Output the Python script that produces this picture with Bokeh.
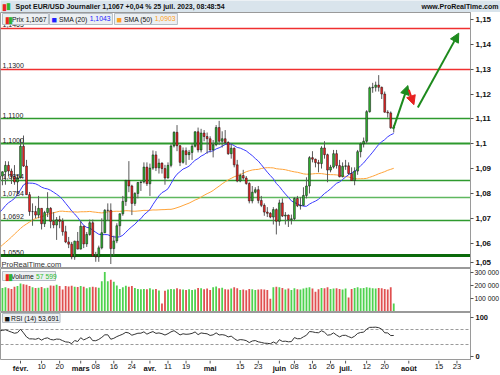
import numpy as np
import pandas as pd
from bokeh.plotting import figure
from bokeh.layouts import column
from bokeh.models import Range1d, FixedTicker, Label, Arrow, NormalHead, ColumnDataSource
from bokeh.core.properties import value
from bokeh.embed import file_html
from bokeh.resources import INLINE

FONT = "Liberation Sans"

# ---------------- data ----------------
start_date = "2023-01-23"
end_date = "2023-07-25"
origin_date = "2023-02-01"

# daily closes before the visible window (Nov 1 2022 -> Jan 20 2023), used for SMA / RSI
pre_closes = [
    0.9877, 0.9820, 0.9750, 0.9960, 1.0020, 1.0073, 1.0014, 1.0210, 1.0357,
    1.0325, 1.0350, 1.0395, 1.0363, 1.0325, 1.0243, 1.0305, 1.0407, 1.0410, 1.0398, 1.0339, 1.0330, 1.0405,
    1.0523, 1.0535, 1.0493, 1.0467, 1.0508, 1.0557, 1.0535, 1.0538, 1.0630, 1.0680, 1.0626, 1.0585,
    1.0605, 1.0621, 1.0604, 1.0593, 1.0619, 1.0634, 1.0640, 1.0612, 1.0660, 1.0703,
    1.0665, 1.0545, 1.0605, 1.0520, 1.0645, 1.0733, 1.0735, 1.0760, 1.0854, 1.0831,
    1.0821, 1.0790, 1.0795, 1.0830, 1.0855,
]

first_open = 1.0855
closes = [
    1.0870, 1.0887, 1.0913, 1.0890, 1.0868, 1.0846, 1.0863,
    1.0990, 1.0910, 1.0795, 1.0727, 1.0727, 1.0713, 1.0740, 1.0678, 1.0723, 1.0740, 1.0688, 1.0673, 1.0694, 1.0688, 1.0646, 1.0605, 1.0596, 1.0545, 1.0608, 1.0576,
    1.0668, 1.0597, 1.0635, 1.0682, 1.0548, 1.0545, 1.0581, 1.0642, 1.0732, 1.0732, 1.0578, 1.0609, 1.0670, 1.0718, 1.0768, 1.0852, 1.0830, 1.0760, 1.0800, 1.0844, 1.0846, 1.0906, 1.0839,
    1.0902, 1.0955, 1.0903, 1.0922, 1.0900, 1.0862, 1.0913, 1.0991, 1.1046, 1.0992, 1.0925, 1.0972, 1.0956, 1.0965, 1.0990, 1.1048, 1.0975, 1.1043, 1.1029, 1.1020,
    1.0975, 1.0996, 1.1065, 1.1010, 1.1020, 1.1005, 1.0960, 1.0982, 1.0915, 1.0850, 1.0872, 1.0862, 1.0840, 1.0770, 1.0805, 1.0815, 1.0772, 1.0752, 1.0725, 1.0720, 1.0705, 1.0735, 1.0688,
    1.0762, 1.0709, 1.0713, 1.0694, 1.0698, 1.0780, 1.0750, 1.0752, 1.0792, 1.0830, 1.0944, 1.0938, 1.0924, 1.0920, 1.0983, 1.0956, 1.0894, 1.0906, 1.0960, 1.0912, 1.0867, 1.0909,
    1.0911, 1.0880, 1.0852, 1.0890, 1.0968, 1.0999, 1.1010, 1.1129, 1.1225, 1.1227, 1.1236, 1.1227, 1.1200, 1.1127, 1.1124, 1.1064, 1.1067,
]
highs = [
    1.0927, 1.0889, 1.0930, 1.0929, 1.0900, 1.0914, 1.0875,
    1.1020, 1.1033, 1.0935, 1.0806, 1.0760, 1.0750, 1.0790, 1.0740, 1.0730, 1.0805, 1.0745, 1.0725, 1.0705, 1.0710, 1.0700, 1.0670, 1.0625, 1.0605, 1.0610, 1.0645,
    1.0690, 1.0670, 1.0645, 1.0695, 1.0695, 1.0565, 1.0590, 1.0700, 1.0737, 1.0760, 1.0760, 1.0630, 1.0680, 1.0720, 1.0790, 1.0855, 1.0930, 1.0835, 1.0805, 1.0845, 1.0850, 1.0925, 1.0925,
    1.0920, 1.0973, 1.0970, 1.0940, 1.0925, 1.0915, 1.0925, 1.0998, 1.1050, 1.1075, 1.0995, 1.0985, 1.0985, 1.0975, 1.1000, 1.1050, 1.1065, 1.1060, 1.1055, 1.1045,
    1.1030, 1.1015, 1.1075, 1.1092, 1.1050, 1.1055, 1.1010, 1.1000, 1.0985, 1.0935, 1.0880, 1.0895, 1.0870, 1.0845, 1.0830, 1.0825, 1.0830, 1.0790, 1.0760, 1.0745, 1.0725, 1.0745, 1.0740,
    1.0775, 1.0780, 1.0725, 1.0715, 1.0715, 1.0785, 1.0790, 1.0785, 1.0825, 1.0865, 1.0950, 1.0970, 1.0940, 1.0935, 1.0990, 1.1010, 1.0960, 1.0915, 1.0975, 1.0975, 1.0935, 1.0925,
    1.0935, 1.0925, 1.0905, 1.0905, 1.0975, 1.1005, 1.1025, 1.1135, 1.1230, 1.1245, 1.1250, 1.1276, 1.1230, 1.1210, 1.1135, 1.1130, 1.1075,
]
lows = [
    1.0855, 1.0833, 1.0835, 1.0870, 1.0838, 1.0835, 1.0800,
    1.0860, 1.0907, 1.0795, 1.0710, 1.0670, 1.0700, 1.0700, 1.0655, 1.0665, 1.0705, 1.0660, 1.0660, 1.0613, 1.0660, 1.0630, 1.0600, 1.0580, 1.0535, 1.0533, 1.0575,
    1.0575, 1.0580, 1.0585, 1.0630, 1.0545, 1.0525, 1.0525, 1.0575, 1.0640, 1.0690, 1.0516, 1.0550, 1.0600, 1.0630, 1.0710, 1.0750, 1.0805, 1.0713, 1.0750, 1.0780, 1.0810, 1.0840, 1.0830,
    1.0790, 1.0895, 1.0890, 1.0880, 1.0880, 1.0835, 1.0860, 1.0905, 1.0985, 1.0970, 1.0910, 1.0920, 1.0915, 1.0935, 1.0935, 1.0985, 1.0965, 1.0965, 1.1010, 1.0960,
    1.0965, 1.0945, 1.0990, 1.0995, 1.0985, 1.0995, 1.0955, 1.0940, 1.0905, 1.0845, 1.0845, 1.0855, 1.0835, 1.0760, 1.0760, 1.0800, 1.0760, 1.0745, 1.0710, 1.0705, 1.0700, 1.0675, 1.0635,
    1.0670, 1.0705, 1.0675, 1.0665, 1.0675, 1.0690, 1.0745, 1.0735, 1.0750, 1.0780, 1.0800, 1.0925, 1.0905, 1.0885, 1.0900, 1.0940, 1.0845, 1.0885, 1.0900, 1.0900, 1.0865, 1.0865,
    1.0895, 1.0875, 1.0850, 1.0833, 1.0875, 1.0945, 1.0985, 1.1000, 1.1125, 1.1205, 1.1210, 1.1210, 1.1180, 1.1125, 1.1105, 1.1060, 1.1045,
]
volumes = [
    175000, 180000, 185000, 178000, 172000, 190000, 195000,
    215000, 210000, 205000, 195000, 185000,
    180000, 182000, 188000, 178000, 182000,
    200000, 198000, 205000, 196000, 168000,
    195000, 192000, 198000, 190000, 188000,
    195000, 190000, 178000, 185000, 190000,
    186000, 182000, 232000,
    305000, 232000, 245000, 228000, 200000,
    172000, 185000, 198000, 190000, 195000,
    180000, 172000, 170000, 172000, 170000,
    178000, 168000, 172000, 160000, 58000,
    158000, 168000, 172000, 170000, 178000,
    170000, 168000, 165000, 170000, 165000,
    168000, 180000, 178000, 170000, 175000,
    165000, 185000, 192000, 178000, 182000,
    170000, 168000, 175000, 185000, 178000,
    165000, 168000, 162000, 172000, 170000,
    165000, 168000, 170000, 168000, 165000,
    95000, 185000, 190000,
    185000, 180000, 168000, 175000, 165000,
    178000, 170000, 168000, 175000, 182000,
    185000, 175000, 150000, 170000, 180000,
    178000, 185000, 172000, 175000, 178000,
    172000, 168000, 175000, 105000, 172000,
    180000, 185000, 178000, 180000, 185000,
    182000, 178000, 175000, 180000, 178000,
    172000, 168000, 185000,
    57599,
]

tick_dates = ["2023-02-01", "2023-02-10", "2023-02-20", "2023-03-01", "2023-03-08", "2023-03-16",
              "2023-03-24", "2023-04-03", "2023-04-11", "2023-04-19", "2023-05-01", "2023-05-15",
              "2023-05-23", "2023-06-01", "2023-06-08", "2023-06-16", "2023-06-26", "2023-07-03",
              "2023-07-12", "2023-07-20", "2023-08-01", "2023-08-15", "2023-08-23"]
tick_labels = ["févr.", "10", "20", "mars", "08", "16", "24", "avr.", "11", "19", "mai", "15",
               "23", "juin", "08", "16", "26", "juil.", "12", "20", "août", "15", "23"]
month_labels = ["févr.", "mars", "avr.", "mai", "juin", "juil.", "août"]

price_ticks = [1.05, 1.06, 1.07, 1.08, 1.09, 1.10, 1.11, 1.12, 1.13, 1.14, 1.15]
price_tick_labels = ["1,05", "1,06", "1,07", "1,08", "1,09", "1,1", "1,11", "1,12", "1,13", "1,14", "1,15"]
vol_ticks = [100000, 200000, 300000]
vol_tick_labels = ["100 000", "200 000", "300 000"]
rsi_ticks = [0, 100]
rsi_tick_labels = ["0", "100"]
rsi_bands = [30, 70]

levels = [1.1465, 1.1300, 1.1100, 1.1000, 1.0854, 1.0784, 1.0692, 1.0550]
level_labels = ["1,1465", "1,1300", "1,1100", "1,1000", "1,0854", "1,0784", "1,0692", "1,0550"]
level_colors = ["#f03030", "#f03030", "#2e9a2e", "#2e9a2e", "#2e9a2e", "#5fb85f", "#2e9a2e", "#0a6a0a"]
level_widths = [1.5, 1.5, 1.5, 2, 1.5, 1.5, 1.5, 3]

# analyst arrows (x in trading days after 1 Feb, y in price)
arrow_x0 = [123.8, 129.0, 132.0]
arrow_y0 = [1.1059, 1.1217, 1.1146]
arrow_x1 = [128.7, 130.7, 145.6]
arrow_y1 = [1.1234, 1.1157, 1.1445]
arrow_colors = ["#1d8a1d", "#e82020", "#1d8a1d"]

last_price_text = "1,1067"
sma20_text = "1,1043"
sma50_text = "1,0903"
vol_text = "57 599"
rsi_last = 53.691
rsi_text = "53,691"

# ---------------- derived ----------------
dates = pd.bdate_range(start_date, end_date).values.astype("datetime64[D]")
x = np.busday_count(np.datetime64(origin_date), dates).astype(float)
opens = [first_open] + closes[:-1]
o = np.array(opens); c = np.array(closes); h = np.array(highs); l = np.array(lows)
up = c >= o
GREEN = "#2fb42f"; RED = "#ec2323"
body_col = np.where(up, GREEN, RED)
vol_col = np.where(up, "#4fd24f", "#e05050")

full = pd.Series(pre_closes + closes)
n_pre = len(pre_closes)
sma20 = full.rolling(20).mean().values[n_pre:]
sma50 = full.rolling(50).mean().values[n_pre:]
d = full.diff()
ag = d.clip(lower=0).ewm(alpha=1 / 14, adjust=False).mean()
al = (-d.clip(upper=0)).ewm(alpha=1 / 14, adjust=False).mean()
rsi = (100 - 100 / (1 + ag / al)).values[n_pre:]

tick_x = [int(np.busday_count(np.datetime64(origin_date), np.datetime64(t))) for t in tick_dates]

# ---------------- layout ----------------
FW = 470
RB = 30
XR = Range1d(-6.645, 149.5)
LOW_LABEL_POS = 1.0521   # the lowest price label is lifted a little so it stays inside its panel


def panel(fh, yr, **kw):
    f = figure(frame_width=FW, frame_height=fh, x_range=XR, y_range=yr,
               output_backend="svg", toolbar_location=None,
               min_border_left=0, min_border_right=RB, min_border_top=0, min_border_bottom=0,
               y_axis_location="right", x_axis_location=None, **kw)
    f.xgrid.visible = False
    f.ygrid.visible = False
    f.outline_line_color = "#9a9a9a"
    f.background_fill_color = "white"
    f.border_fill_color = "white"
    ax = f.yaxis[0]
    ax.axis_line_color = "#9a9a9a"
    ax.major_tick_out = 3
    ax.major_tick_in = 0
    ax.minor_tick_line_color = None
    ax.major_tick_line_color = "#555555"
    ax.major_label_standoff = 2
    ax.major_label_text_font = FONT
    ax.major_label_text_color = "#111111"
    return f


def box_label(f, xs, ys, text, color="#111111", bg=None, border=None, bold=False, size="6.8px",
              xu="screen", yu="screen", baseline="top", pad=0, align="left", yoff=0):
    kw = {}
    if bg is not None:
        kw["background_fill_color"] = bg
    if border is not None:
        kw["border_line_color"] = border
    lab = Label(x=xs, y=ys, x_units=xu, y_units=yu, text=text, text_color=color,
                text_font=FONT, text_font_size=size, text_font_style="bold" if bold else "normal",
                text_baseline=baseline, text_align=align, padding=pad, y_offset=yoff, **kw)
    f.add_layout(lab)
    return lab


# header
hdr = figure(frame_width=500, frame_height=12, x_range=Range1d(0, 500), y_range=Range1d(0, 12),
             output_backend="svg", toolbar_location=None, min_border=0,
             x_axis_location=None, y_axis_location=None)
hdr.background_fill_color = "#d9e4ec"
hdr.border_fill_color = "#d9e4ec"
hdr.outline_line_color = None
hdr.xgrid.visible = False
hdr.ygrid.visible = False
box_label(hdr, 1, 6, "▮", color=RED, size="9px", baseline="middle")
box_label(hdr, 5, 7, "▮", color=GREEN, size="9px", baseline="middle")
box_label(hdr, 15, 6, "Spot EUR/USD Journalier 1,1067 +0,04 % 25 juil. 2023, 08:48:54",
          bold=True, size="7px", baseline="middle")
box_label(hdr, 498, 6, "www.ProRealTime.com", bold=True, size="7px", baseline="middle", align="right")

# price panel
PH = 256
pp = panel(PH, Range1d(1.0498, 1.1528))
pp.yaxis[0].ticker = FixedTicker(ticks=price_ticks + [LOW_LABEL_POS])
overrides = {t: s for t, s in zip(price_ticks, price_tick_labels)}
overrides[price_ticks[0]] = ""
overrides[LOW_LABEL_POS] = price_tick_labels[0]
pp.yaxis[0].major_label_overrides = overrides
pp.yaxis[0].major_label_text_font_size = "8px"
pp.yaxis[0].major_label_text_font_style = "bold"

pp.hspan(y=levels, line_color=level_colors, line_width=level_widths)
for lv, lt in zip(levels, level_labels):
    box_label(pp, 2, lv, lt, size="7px", yu="data", baseline="bottom", color="#222222", yoff=1)

pp.line(x, sma50, line_color="#ffa43a", line_width=1)
pp.line(x, sma20, line_color="#3b3bff", line_width=1)
pp.segment(x0=x, y0=l, x1=x, y1=h, line_color="#5a5a5a", line_width=1)
pp.vbar(x=x, width=0.62, top=np.maximum(o, c), bottom=np.minimum(o, c),
        fill_color=body_col, line_color="#111111", line_width=0.5)

for x0, y0, x1, y1, col in zip(arrow_x0, arrow_y0, arrow_x1, arrow_y1, arrow_colors):
    pp.add_layout(Arrow(x_start=x0, y_start=y0, x_end=x1, y_end=y1, line_color=col, line_width=2,
                        end=NormalHead(size=9, fill_color=col, line_color=col)))

# legend boxes
LB = "#eceff2"; LBR = "#b5bcc4"
NB = "\u00a0"
box_label(pp, 2, PH - 1, NB * 4 + "Prix " + last_price_text, bg=LB, border=LBR, pad=2)
box_label(pp, 4, PH - 2.5, "▮", color=RED, size="9px")
box_label(pp, 7, PH - 2.5, "▮", color=GREEN, size="9px")
box_label(pp, 49, PH - 1, NB * 4 + "SMA (20) " + NB * 11, bg=LB, border=LBR, pad=2)
box_label(pp, 51, PH - 2.5, "■", color="#2020ff", size="9px")
box_label(pp, 87.2, PH - 1, sma20_text, color="#2020ff", pad=2)
box_label(pp, 114, PH - 1, NB * 4 + "SMA (50) " + NB * 11, bg=LB, border=LBR, pad=2)
box_label(pp, 116, PH - 2.5, "■", color="#ffa020", size="9px")
box_label(pp, 152.2, PH - 1, sma50_text, color="#ffa020", pad=2)
box_label(pp, 1, 0, "ProRealTime.com", size="7.5px", baseline="bottom", color="#333333")
# last price tag
box_label(pp, FW + 1, closes[-1], last_price_text, bold=True, size="7.5px", yu="data",
          baseline="middle", bg="#ffff4a", border="#333333", pad=2)

# volume panel
VH = 44
vp = panel(VH, Range1d(-12500, 333000))
vp.yaxis[0].ticker = FixedTicker(ticks=vol_ticks)
vp.yaxis[0].major_label_overrides = {t: s for t, s in zip(vol_ticks, vol_tick_labels)}
vp.yaxis[0].major_label_text_font_size = "6.8px"
vp.yaxis[0].major_label_standoff = 1
vp.vbar(x=x, width=0.6, top=volumes, bottom=0, fill_color=vol_col, line_color=None)
box_label(vp, 2, VH - 3, NB * 4 + "Volume " + NB * 10, bg=LB, border=LBR, pad=1)
box_label(vp, 4, VH - 3.5, "▮", color=RED, size="9px")
box_label(vp, 7, VH - 3.5, "▮", color=GREEN, size="9px")
box_label(vp, 34.5, VH - 3, vol_text, color="#2fbf2f", pad=1)
box_label(vp, FW + 1, volumes[-1], vol_text, size="7px", yu="data", baseline="middle",
          bg="white", border="#888888", color="#2fbf2f", pad=1)

# RSI panel
RH = 48
rp = panel(RH, Range1d(-10, 112.5))
rp.yaxis[0].ticker = FixedTicker(ticks=rsi_ticks)
rp.yaxis[0].major_label_overrides = {t: s for t, s in zip(rsi_ticks, rsi_tick_labels)}
rp.yaxis[0].major_label_text_font_size = "7.5px"
rp.yaxis[0].major_label_text_font_style = "bold"
rp.hspan(y=rsi_bands, line_color="#9a9a9a", line_width=1, line_dash="3 2")
rp.line(x, rsi, line_color="#333333", line_width=1)
box_label(rp, 2, RH - 1, NB * 4 + "RSI (14) " + rsi_text, bg=LB, border=LBR, pad=1)
box_label(rp, 4, RH - 1.5, "■", color="#111111", size="9px")
box_label(rp, FW + 1, rsi_last, rsi_text, size="7px", yu="data", baseline="middle",
          bg="white", border="#888888", pad=1)

# date axis strip (tick marks + labels placed through the shared x scale)
AH = 15
ax_fig = figure(frame_width=FW, frame_height=AH, x_range=XR, y_range=Range1d(0, AH),
                output_backend="svg", toolbar_location=None,
                min_border_left=0, min_border_right=RB, min_border_top=0, min_border_bottom=0,
                x_axis_location=None, y_axis_location=None)
ax_fig.xgrid.visible = False
ax_fig.ygrid.visible = False
ax_fig.outline_line_color = None
ax_fig.background_fill_color = "white"
ax_fig.border_fill_color = "white"
tsrc = ColumnDataSource(dict(
    x=tick_x,
    label=tick_labels,
    style=["bold" if s in month_labels else "normal" for s in tick_labels],
))
ax_fig.segment(x0="x", y0=AH, x1="x", y1=AH - 3, source=tsrc, line_color="#555555", line_width=1)
ax_fig.text(x="x", y=AH - 3.5, text="label", source=tsrc, text_font=value(FONT),
            text_font_size=value("7.5px"), text_font_style="style", text_color="#111111",
            text_align="center", text_baseline="top")

layout = column(hdr, pp, vp, rp, ax_fig, spacing=0)
open("out.html", "w").write(file_html(layout, INLINE))
